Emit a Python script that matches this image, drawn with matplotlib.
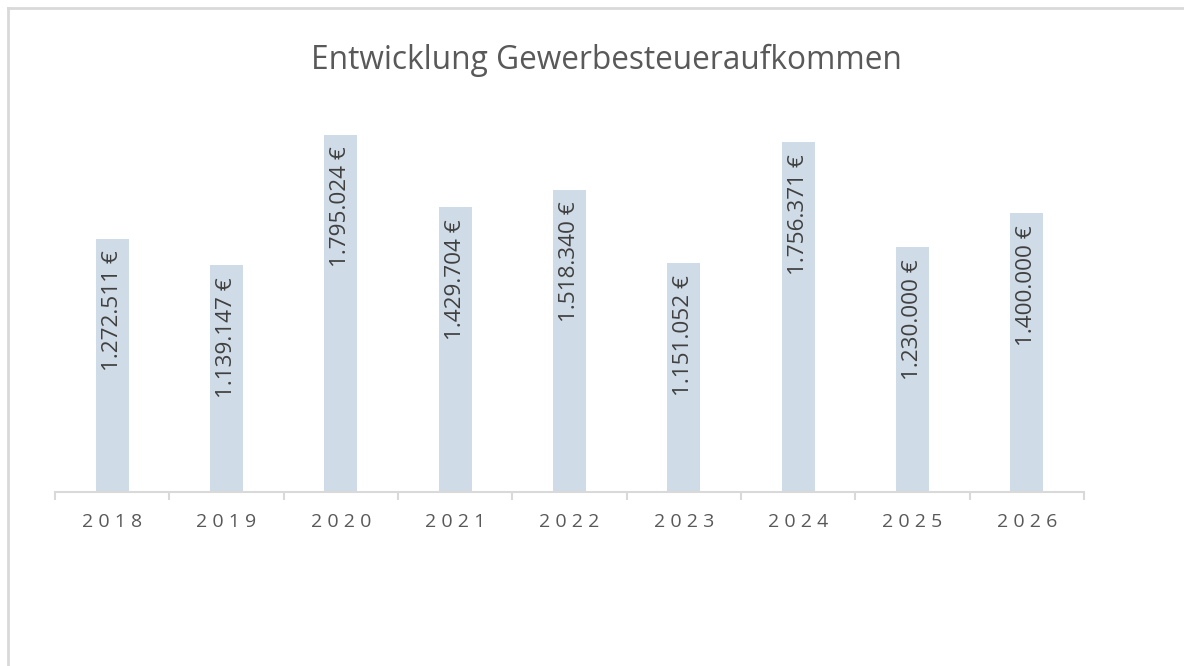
import matplotlib.pyplot as plt
from matplotlib.lines import Line2D
import numpy as np

years = ['2018', '2019', '2020', '2021', '2022', '2023', '2024', '2025', '2026']
values = [1272511, 1139147, 1795024, 1429704, 1518340, 1151052, 1756371, 1230000, 1400000]

bar_color = '#CFDBE6'
grid_gray = '#D9D9D9'
text_gray = '#595959'

plt.rcParams['font.family'] = ['Open Sans', 'DejaVu Sans']

fig = plt.figure(figsize=(11.84, 6.66), dpi=100)
ax = fig.add_axes([0.0465, 0.2613, 0.869, 0.5976])

x = np.arange(len(years))
ax.bar(x, values, width=0.29, color=bar_color, zorder=2)

# value labels, rotated, inside the bars near the top
for xi, v in zip(x, values):
    lab = '{:,}'.format(v).replace(',', '.') + ' €'
    ax.annotate(lab, (xi, v), xytext=(0, -8.5), textcoords='offset points',
                rotation=90, ha='center', va='top', fontsize=16.2, color='#404040')

ax.set_xlim(-0.5, len(years) - 0.5)
ax.set_ylim(0, 2000000)

for s in ['top', 'right', 'left']:
    ax.spines[s].set_visible(False)
ax.spines['bottom'].set_color(grid_gray)
ax.spines['bottom'].set_linewidth(1.5)
ax.set_yticks([])

# ticks between categories, labels centred
ax.set_xticks(np.arange(len(years) + 1) - 0.5)
ax.set_xticklabels([])
ax.tick_params(axis='x', which='major', length=6, width=1.5, color=grid_gray)
ax.set_xticks(x, minor=True)
ax.set_xticklabels([' '.join(y) for y in years], minor=True,
                   fontsize=14, color=text_gray)
ax.tick_params(axis='x', which='minor', length=0, pad=15)

fig.text(606 / 1184, 0.909, 'Entwicklung Gewerbesteueraufkommen', ha='center', va='center',
         fontsize=22.8, color=text_gray)

# chart area frame (only left and top visible)
fig.add_artist(Line2D([8 / 1184, 8 / 1184], [0, 1 - 8 / 666], color=grid_gray, lw=2,
                      transform=fig.transFigure))
fig.add_artist(Line2D([8 / 1184, 1], [1 - 8 / 666, 1 - 8 / 666], color=grid_gray, lw=2,
                      transform=fig.transFigure))

plt.savefig('out.png', dpi=100)
